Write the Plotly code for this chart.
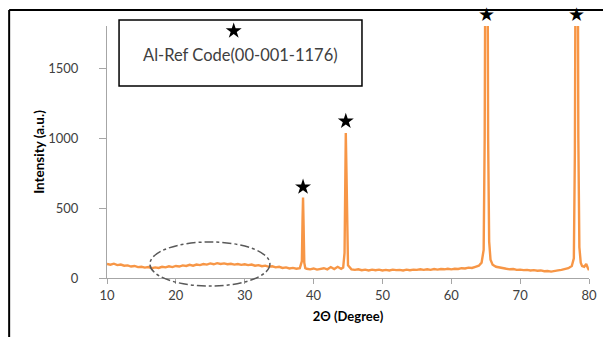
import plotly.graph_objects as go

two_theta = [
    10.0, 10.5, 11.0, 11.5, 12.0, 12.5, 13.0, 13.5, 14.0, 14.5, 15.0,
    15.5, 16.0, 16.5, 17.0, 17.5, 18.0, 18.5, 19.0, 19.5, 20.0,
    20.5, 21.0, 21.5, 22.0, 22.5, 23.0, 23.5, 24.0, 24.5, 25.0,
    25.5, 26.0, 26.5, 27.0, 27.5, 28.0, 28.5, 29.0, 29.5, 30.0,
    30.5, 31.0, 31.5, 32.0, 32.5, 33.0, 33.5, 34.0, 34.5, 35.0,
    35.5, 36.0, 36.5, 37.0, 37.5, 38.0,
    38.3, 38.4, 38.47, 38.55, 38.65, 38.8,
    39.0, 39.5, 40.0, 40.5, 41.0, 41.5, 42.0, 42.5, 43.0, 43.5, 44.0, 44.3,
    44.5, 44.6, 44.68, 44.78, 44.88, 45.0,
    45.5, 46.0, 46.5, 47.0, 47.5, 48.0, 48.5, 49.0, 49.5, 50.0,
    50.5, 51.0, 51.5, 52.0, 52.5, 53.0, 53.5, 54.0, 54.5, 55.0,
    55.5, 56.0, 56.5, 57.0, 57.5, 58.0, 58.5, 59.0, 59.5, 60.0,
    60.5, 61.0, 61.5, 62.0, 62.5, 63.0, 63.5, 64.0, 64.4, 64.7,
    64.85, 64.95, 65.1, 65.25, 65.35, 65.5, 65.7, 66.0,
    66.5, 67.0, 67.5, 68.0, 68.5, 69.0, 69.5, 70.0, 70.5, 71.0,
    71.5, 72.0, 72.5, 73.0, 73.5, 74.0, 74.5, 75.0, 75.5, 76.0,
    76.5, 77.0, 77.5, 77.8,
    77.95, 78.05, 78.2, 78.35, 78.45, 78.6, 78.8,
    79.0, 79.3, 79.6, 79.8, 80.0,
]
intensity = [
    100, 95, 102, 92, 96, 88, 90, 82, 86, 78, 80,
    74, 78, 70, 76, 72, 80, 76, 84, 78, 86,
    82, 90, 86, 94, 88, 96, 92, 100, 96, 104,
    98, 106, 100, 104, 98, 102, 96, 100, 94, 98,
    92, 96, 88, 92, 84, 88, 80, 84, 76, 80,
    72, 76, 68, 72, 66, 70,
    120, 420, 575, 380, 110, 70,
    66, 62, 68, 60, 64, 70, 62, 78, 64, 80, 66, 75,
    180, 700, 1035, 750, 220, 90,
    62, 58, 62, 56, 60, 54, 60, 56, 60, 54,
    58, 54, 60, 56, 58, 54, 60, 56, 60, 58,
    62, 58, 62, 58, 64, 60, 64, 62, 66, 62,
    66, 64, 70, 68, 74, 72, 80, 88, 110, 200,
    1000, 2800, 4500, 2800, 1000, 260, 130, 95,
    80, 74, 70, 66, 62, 64, 58, 60, 56, 58,
    54, 56, 52, 54, 48, 50, 46, 52, 54, 58,
    62, 70, 85, 140,
    900, 2800, 4500, 2800, 1000, 220, 110,
    85, 80, 100, 75, 55,
]

# stars above peaks that stay inside the plotted range
star_x = [38.47, 44.68, 28.4]
star_y = [650, 1120, 1765]
# stars above the two clipped (off-scale) peaks
top_star_x = [65.1, 78.2]

legend_text = "Al-Ref Code(00-001-1176)"
x_title = "2\u0398 (Degree)"
y_title = "Intensity (a.u.)"
x_ticks = [10, 20, 30, 40, 50, 60, 70, 80]
y_ticks = [0, 500, 1000, 1500]

fig = go.Figure()
fig.add_trace(go.Scatter(
    x=two_theta, y=intensity, mode="lines",
    line=dict(color="#F79646", width=2.4),
    showlegend=False, hoverinfo="skip",
))
fig.add_trace(go.Scatter(
    x=star_x, y=star_y, mode="markers",
    marker=dict(symbol="star", size=12, color="black"),
    cliponaxis=False, showlegend=False, hoverinfo="skip",
))

font_family = "Lato, 'Liberation Sans', sans-serif"

annotations = [
    dict(text=legend_text, xref="paper", yref="paper", x=0.276, y=0.885,
         xanchor="center", yanchor="middle",
         showarrow=False, font=dict(size=16.5, color="#404040", family=font_family)),
]
for sx in top_star_x:
    annotations.append(dict(
        text="\u2605", xref="x", yref="paper", x=sx, y=1.048,
        xanchor="center", yanchor="middle", showarrow=False,
        font=dict(size=19, color="black", family="DejaVu Sans"),
    ))

fig.update_layout(
    width=603, height=337,
    margin=dict(l=107, r=14, t=26, b=59),
    paper_bgcolor="white", plot_bgcolor="white",
    font=dict(family=font_family, color="#404040", size=13),
    xaxis=dict(
        range=[10, 80], tickvals=x_ticks, showgrid=False, zeroline=False,
        automargin=False,
        showline=True, linecolor="#A6A6A6", linewidth=1,
        ticks="outside", ticklen=5, tickcolor="#A6A6A6",
        tickfont=dict(size=13, color="#404040"),
        title=dict(text="<b>" + x_title + "</b>", font=dict(size=13, color="#000000"), standoff=10),
    ),
    yaxis=dict(
        range=[0, 1800], tickvals=y_ticks, showgrid=False, zeroline=False,
        automargin=False,
        showline=True, linecolor="#A6A6A6", linewidth=1,
        ticks="outside", ticklen=7, tickcolor="#A6A6A6", ticklabelstandoff=18,
        tickfont=dict(size=13, color="#404040"),
        title=dict(text="<b>" + y_title + "</b>", font=dict(size=13.5, color="#000000"), standoff=0),
    ),
    shapes=[
        # legend box
        dict(type="rect", xref="paper", yref="paper", x0=0.025, x1=0.529, y0=0.762, y1=1.024,
             line=dict(color="black", width=1.5), fillcolor="rgba(0,0,0,0)", layer="below"),
        # dash-dot ellipse around the amorphous hump
        dict(type="circle", xref="paper", yref="paper", x0=0.089, x1=0.338, y0=-0.032, y1=0.143,
             line=dict(color="#595959", width=1.5, dash="dashdot")),
        # outer frame (left and top)
        dict(type="line", xref="paper", yref="paper", x0=-0.203, x1=-0.203, y0=-0.25, y1=1.063,
             line=dict(color="black", width=2)),
        dict(type="line", xref="paper", yref="paper", x0=-0.203, x1=1.05, y0=1.063, y1=1.063,
             line=dict(color="black", width=2)),
    ],
    annotations=annotations,
)

fig.write_html("out.html")
